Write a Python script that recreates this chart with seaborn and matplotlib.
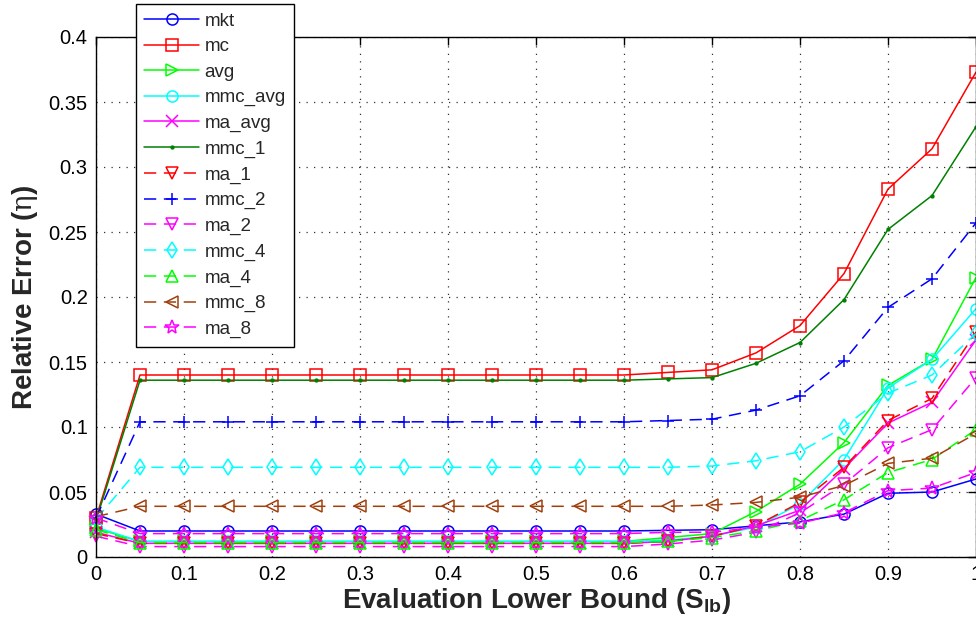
import matplotlib
matplotlib.use("Agg")
import matplotlib.pyplot as plt
import matplotlib.ticker as mticker
import seaborn as sns
import pandas as pd

x_vals = [0.00, 0.05, 0.10, 0.15, 0.20, 0.25, 0.30, 0.35, 0.40, 0.45, 0.50,
          0.55, 0.60, 0.65, 0.70, 0.75, 0.80, 0.85, 0.90, 0.95, 1.00]

mkt     = [0.033, 0.020, 0.020, 0.020, 0.020, 0.020, 0.020, 0.020, 0.020, 0.020, 0.020,
           0.020, 0.020, 0.0205, 0.021, 0.024, 0.027, 0.033, 0.049, 0.050, 0.060]
mc      = [0.030, 0.140, 0.140, 0.140, 0.140, 0.140, 0.140, 0.140, 0.140, 0.140, 0.140,
           0.140, 0.140, 0.142, 0.144, 0.157, 0.178, 0.218, 0.283, 0.314, 0.373]
avg     = [0.022, 0.012, 0.012, 0.012, 0.012, 0.012, 0.012, 0.012, 0.012, 0.012, 0.012,
           0.012, 0.012, 0.015, 0.018, 0.035, 0.056, 0.088, 0.132, 0.152, 0.215]
mmc_avg = [0.023, 0.012, 0.012, 0.012, 0.012, 0.012, 0.012, 0.012, 0.012, 0.012, 0.012,
           0.012, 0.012, 0.013, 0.016, 0.023, 0.041, 0.075, 0.130, 0.152, 0.191]
ma_avg  = [0.019, 0.0105, 0.0105, 0.0105, 0.0105, 0.0105, 0.0105, 0.0105, 0.0105, 0.0105, 0.0105,
           0.0105, 0.0105, 0.012, 0.016, 0.024, 0.036, 0.068, 0.103, 0.119, 0.167]
mmc_1   = [0.028, 0.136, 0.136, 0.136, 0.136, 0.136, 0.136, 0.136, 0.136, 0.136, 0.136,
           0.136, 0.136, 0.137, 0.138, 0.149, 0.165, 0.198, 0.252, 0.278, 0.331]
ma_1    = [0.018, 0.0105, 0.0105, 0.0105, 0.0105, 0.0105, 0.0105, 0.0105, 0.0105, 0.0105, 0.0105,
           0.0105, 0.0105, 0.012, 0.016, 0.024, 0.042, 0.069, 0.105, 0.122, 0.173]
mmc_2   = [0.030, 0.104, 0.104, 0.104, 0.104, 0.104, 0.104, 0.104, 0.104, 0.104, 0.104,
           0.104, 0.104, 0.105, 0.106, 0.113, 0.124, 0.151, 0.192, 0.214, 0.257]
ma_2    = [0.016, 0.008, 0.008, 0.008, 0.008, 0.008, 0.008, 0.008, 0.008, 0.008, 0.008,
           0.008, 0.008, 0.010, 0.013, 0.019, 0.034, 0.056, 0.084, 0.098, 0.138]
mmc_4   = [0.029, 0.069, 0.069, 0.069, 0.069, 0.069, 0.069, 0.069, 0.069, 0.069, 0.069,
           0.069, 0.069, 0.069, 0.070, 0.074, 0.081, 0.100, 0.126, 0.140, 0.172]
ma_4    = [0.021, 0.011, 0.011, 0.011, 0.011, 0.011, 0.011, 0.011, 0.011, 0.011, 0.011,
           0.011, 0.011, 0.012, 0.015, 0.020, 0.028, 0.044, 0.065, 0.075, 0.098]
mmc_8   = [0.031, 0.039, 0.039, 0.039, 0.039, 0.039, 0.039, 0.039, 0.039, 0.039, 0.039,
           0.039, 0.039, 0.039, 0.040, 0.042, 0.046, 0.055, 0.072, 0.076, 0.095]
ma_8    = [0.030, 0.018, 0.018, 0.018, 0.018, 0.018, 0.018, 0.018, 0.018, 0.018, 0.018,
           0.018, 0.018, 0.019, 0.019, 0.023, 0.026, 0.034, 0.051, 0.053, 0.065]

series_names = ["mkt", "mc", "avg", "mmc_avg", "ma_avg", "mmc_1", "ma_1",
                "mmc_2", "ma_2", "mmc_4", "ma_4", "mmc_8", "ma_8"]
series_values = [mkt, mc, avg, mmc_avg, ma_avg, mmc_1, ma_1,
                 mmc_2, ma_2, mmc_4, ma_4, mmc_8, ma_8]

x_ticks = [0, 0.1, 0.2, 0.3, 0.4, 0.5, 0.6, 0.7, 0.8, 0.9, 1.0]
y_ticks = [0, 0.05, 0.1, 0.15, 0.2, 0.25, 0.3, 0.35, 0.4]

brown = (0.63, 0.25, 0.05)
styles = {
    "mkt":     dict(color=(0, 0, 1), marker="o", ls="-"),
    "mc":      dict(color=(1, 0, 0), marker="s", ls="-"),
    "avg":     dict(color=(0, 1, 0), marker=">", ls="-"),
    "mmc_avg": dict(color=(0, 1, 1), marker="o", ls="-"),
    "ma_avg":  dict(color=(1, 0, 1), marker="x", ls="-"),
    "mmc_1":   dict(color=(0, 0.5, 0), marker=".", ls="-"),
    "ma_1":    dict(color=(1, 0, 0), marker="v", ls="--"),
    "mmc_2":   dict(color=(0, 0, 1), marker="+", ls="--"),
    "ma_2":    dict(color=(1, 0, 1), marker="v", ls="--"),
    "mmc_4":   dict(color=(0, 1, 1), marker="d", ls="--"),
    "ma_4":    dict(color=(0, 1, 0), marker="^", ls="--"),
    "mmc_8":   dict(color=brown, marker="<", ls="--"),
    "ma_8":    dict(color=(1, 0, 1), marker="*", ls="--"),
}

records = []
for name, vals in zip(series_names, series_values):
    for xv, yv in zip(x_vals, vals):
        records.append({"series": name, "x": xv, "y": yv})
df = pd.DataFrame(records)

sns.set_theme(style="white")
plt.rcParams["font.family"] = ["Liberation Sans", "DejaVu Sans"]
plt.rcParams["mathtext.fontset"] = "custom"
plt.rcParams["mathtext.rm"] = "Liberation Sans"
plt.rcParams["mathtext.bf"] = "Liberation Sans:bold"
plt.rcParams["mathtext.it"] = "DejaVu Serif"
plt.rcParams["lines.dashed_pattern"] = [8, 5]

fig = plt.figure(figsize=(9.76, 6.30), dpi=100)
ax = fig.add_axes([96 / 976, (630 - 557) / 630, 880 / 976, 520 / 630])

for name in series_names:
    st = styles[name]
    sub = df[df["series"] == name]
    ms = 4 if st["marker"] == "." else (10 if st["marker"] == "*" else 8)
    sns.lineplot(data=sub, x="x", y="y", ax=ax, color=st["color"],
                 marker=st["marker"], linestyle=st["ls"], linewidth=1.1,
                 markersize=ms, mec=st["color"], mew=1.1,
                 markerfacecolor="none" if st["marker"] != "." else st["color"],
                 label=name, legend=False, clip_on=False)

ax.set_xlim(0, 1)
ax.set_ylim(0, 0.4)
ax.xaxis.set_major_locator(mticker.FixedLocator(x_ticks))
ax.yaxis.set_major_locator(mticker.FixedLocator(y_ticks))
ax.xaxis.set_major_formatter(mticker.FormatStrFormatter("%g"))
ax.yaxis.set_major_formatter(mticker.FormatStrFormatter("%g"))
ax.tick_params(direction="in", length=6, width=1, top=True, right=True,
               labelsize=14.5, colors="black", pad=6)
ax.grid(True, which="major", color="#333333", linestyle=(0, (1, 5)), linewidth=0.9)
for sp in ax.spines.values():
    sp.set_visible(True)
    sp.set_color("black")
    sp.set_linewidth(1.0)

ax.set_xlabel(r"Evaluation Lower Bound (S$_{\mathbf{lb}}$)", fontsize=20,
              fontweight="bold", labelpad=1)
ax.set_ylabel(r"Relative Error ($\eta$)", fontsize=20, fontweight="bold", labelpad=6)

handles, labels = ax.get_legend_handles_labels()
leg = fig.legend(handles, labels, loc="upper left",
                 bbox_to_anchor=(136 / 976, 1 - 4 / 630),
                 fontsize=13.5, frameon=True, fancybox=False, handlelength=2.9,
                 handletextpad=0.3, labelspacing=0.45, borderpad=0.45,
                 borderaxespad=0)
leg.get_frame().set_edgecolor("black")
leg.get_frame().set_linewidth(1.0)
leg.get_frame().set_alpha(1.0)

fig.savefig("out.png", dpi=100)
